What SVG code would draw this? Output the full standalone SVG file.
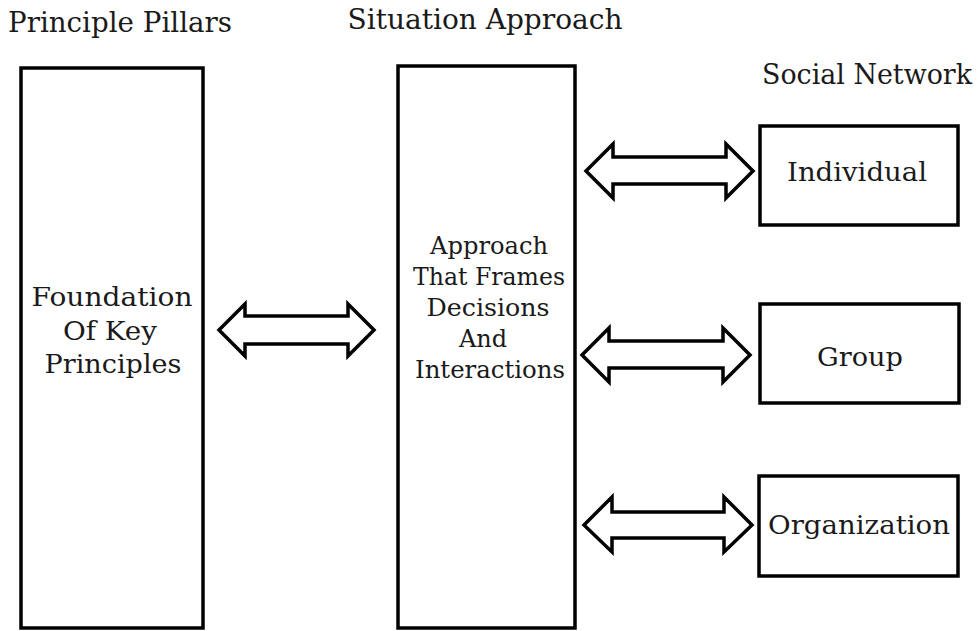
<svg xmlns="http://www.w3.org/2000/svg" width="979" height="631" viewBox="0 0 979 631">
<style>
.box{fill:#fff;stroke:#000;stroke-width:3.5}
.arr{fill:#fff;stroke:#000;stroke-width:3.5;stroke-linejoin:miter}
text{font-family:"DejaVu Serif","Liberation Serif",serif;fill:#1a1a1a;text-anchor:middle}
.h{font-size:28px}
.t{font-size:26px}
.m{font-size:24px}
</style>
<rect width="979" height="631" fill="#fff"/>
<g id="title-pillars"><text class="h" x="120" y="32" textLength="224" lengthAdjust="spacingAndGlyphs">Principle Pillars</text></g>
<g id="title-situation"><text class="h" x="485" y="29" textLength="275" lengthAdjust="spacingAndGlyphs">Situation Approach</text></g>
<g id="title-social"><text class="h" x="867" y="84" textLength="210" lengthAdjust="spacingAndGlyphs">Social Network</text></g>
<g id="pillars">
<rect class="box" x="21" y="68" width="182" height="560"/>
<text class="t" x="112" y="306" textLength="161" lengthAdjust="spacingAndGlyphs">Foundation</text>
<text class="t" x="110" y="340" textLength="94" lengthAdjust="spacingAndGlyphs">Of Key</text>
<text class="t" x="113" y="373" textLength="137" lengthAdjust="spacingAndGlyphs">Principles</text>
</g>
<g id="situation">
<rect class="box" x="398" y="66" width="177" height="562"/>
<text class="m" x="489" y="254" textLength="118" lengthAdjust="spacingAndGlyphs">Approach</text>
<text class="m" x="489" y="285" textLength="152" lengthAdjust="spacingAndGlyphs">That Frames</text>
<text class="m" x="488" y="316" textLength="123" lengthAdjust="spacingAndGlyphs">Decisions</text>
<text class="m" x="483" y="347">And</text>
<text class="m" x="490" y="378" textLength="150" lengthAdjust="spacingAndGlyphs">Interactions</text>
</g>
<g id="individual">
<rect class="box" x="760" y="126" width="198" height="99"/>
<text class="t" x="857" y="181" textLength="140" lengthAdjust="spacingAndGlyphs">Individual</text>
</g>
<g id="group">
<rect class="box" x="760" y="304" width="199" height="99"/>
<text class="t" x="860" y="366" textLength="86" lengthAdjust="spacingAndGlyphs">Group</text>
</g>
<g id="organization">
<rect class="box" x="759" y="476" width="199" height="100"/>
<text class="t" x="859" y="534" textLength="182" lengthAdjust="spacingAndGlyphs">Organization</text>
</g>
<g id="connectors">
<path class="arr" d="M219,330 L245,304 L245,316 L348,316 L348,304 L374,330 L348,356 L348,344 L245,344 L245,356 Z"/>
<path class="arr" d="M586,171 L613,144 L613,157 L726,157 L726,144 L753,171 L726,198 L726,184 L613,184 L613,198 Z"/>
<path class="arr" d="M582,355 L609,328 L609,341 L723,341 L723,328 L750,355 L723,382 L723,368 L609,368 L609,382 Z"/>
<path class="arr" d="M584,525 L612,497 L612,512 L724,512 L724,497 L752,525 L724,552 L724,538 L612,538 L612,552 Z"/>
</g>
</svg>
